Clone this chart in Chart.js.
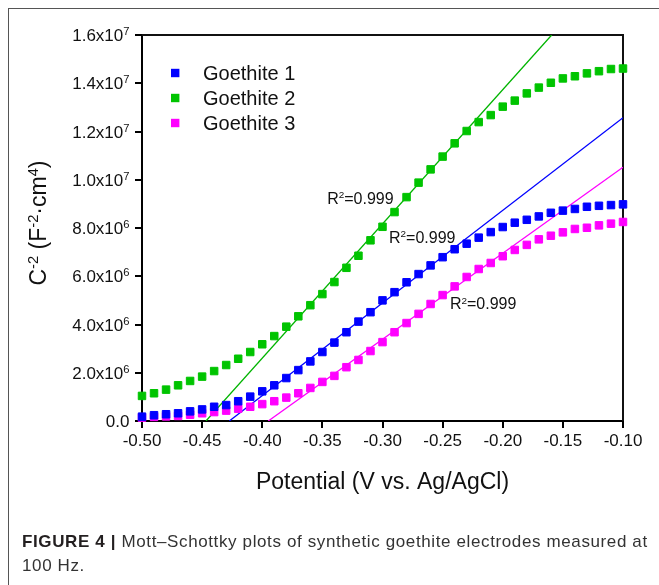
<!DOCTYPE html>
<html>
<head>
<meta charset="utf-8">
<title>Mott–Schottky plots</title>
<script src="https://cdn.jsdelivr.net/npm/chart.js@4.4.1/dist/chart.umd.min.js"></script>
<style>
    html, body { margin: 0; padding: 0; background: #fff; }
    #wrap { position: relative; width: 659px; height: 585px; overflow: hidden; }
    #frame { position: absolute; left: 8px; top: 8px; width: 700px; height: 620px; border: 1.5px solid #555; }
    #plot { position: absolute; left: 0; top: 0; }
    #caption {
        position: absolute; left: 22px; top: 530px; width: 650px;
        font-family: "Liberation Sans", Arial, sans-serif; font-size: 17px; line-height: 23.5px;
        letter-spacing: 0.62px; color: #333; white-space: nowrap;
    }
    #caption b { font-weight: bold; color: #231f20; }
</style>
</head>
<body>
<div id="wrap">
    <div id="frame"></div>
    <canvas id="plot" width="659" height="585"></canvas>
    <div id="caption"><b>FIGURE 4 |</b> Mott–Schottky plots of synthetic goethite electrodes measured at<br>100 Hz.</div>
</div>
<script>
// Potential (V vs. Ag/AgCl)
const potential = [-0.50, -0.49, -0.48, -0.47, -0.46, -0.45, -0.44, -0.43, -0.42, -0.41,
    -0.40, -0.39, -0.38, -0.37, -0.36, -0.35, -0.34, -0.33, -0.32, -0.31,
    -0.30, -0.29, -0.28, -0.27, -0.26, -0.25, -0.24, -0.23, -0.22, -0.21,
    -0.20, -0.19, -0.18, -0.17, -0.16, -0.15, -0.14, -0.13, -0.12, -0.11, -0.10];

// C^-2 values, in units of 1e6 F^-2 cm^4
const goethite1 = [0.18, 0.24, 0.28, 0.32, 0.40, 0.48, 0.59, 0.66, 0.82, 1.01,
    1.23, 1.48, 1.78, 2.11, 2.47, 2.86, 3.25, 3.68, 4.12, 4.51,
    5.00, 5.34, 5.75, 6.09, 6.45, 6.79, 7.12, 7.35, 7.60, 7.83,
    8.04, 8.22, 8.34, 8.48, 8.63, 8.72, 8.79, 8.88, 8.92, 8.95, 8.98];
const goethite2 = [1.04, 1.15, 1.30, 1.48, 1.66, 1.84, 2.07, 2.32, 2.58, 2.86,
    3.18, 3.52, 3.91, 4.34, 4.80, 5.26, 5.76, 6.35, 6.85, 7.49,
    8.05, 8.66, 9.28, 9.88, 10.43, 10.96, 11.51, 12.02, 12.39, 12.68,
    13.03, 13.28, 13.58, 13.82, 14.02, 14.20, 14.29, 14.41, 14.50, 14.59, 14.61];
const goethite3 = [0.14, 0.17, 0.19, 0.21, 0.26, 0.32, 0.37, 0.43, 0.51, 0.59,
    0.70, 0.82, 0.97, 1.15, 1.37, 1.62, 1.87, 2.23, 2.53, 2.90,
    3.27, 3.68, 4.06, 4.44, 4.85, 5.22, 5.58, 5.97, 6.30, 6.55,
    6.83, 7.09, 7.30, 7.53, 7.68, 7.82, 7.96, 8.01, 8.11, 8.18, 8.25];

// linear fits (end points), same units
const fit1X = [-0.4274, -0.10];
const fit1Y = [0, 12.57];
const fit2X = [-0.4468, -0.1593];
const fit2Y = [0, 16.0];
const fit3X = [-0.3950, -0.10];
const fit3Y = [0, 10.52];

const seriesNames = ['Goethite 1', 'Goethite 2', 'Goethite 3'];
const seriesColors = ['#0000ff', '#00c400', '#ff00ff'];
const lineColors = ['#0000ff', '#00b400', '#ff00ff'];

// R^2 label anchors (left / middle), in data units
const r2Text = ['0.999', '0.999', '0.999'];
const r2X = [-0.2946, -0.3460, -0.2439];
const r2Y = [7.62, 9.25, 4.87];

// tick labels
const xTickLabels = ['-0.50', '-0.45', '-0.40', '-0.35', '-0.30', '-0.25', '-0.20', '-0.15', '-0.10'];
const yTickMantissa = ['0.0', '2.0', '4.0', '6.0', '8.0', '1.0', '1.2', '1.4', '1.6'];
const yTickExp = ['', '6', '6', '6', '6', '7', '7', '7', '7'];

const FONT = '"Liberation Sans", Arial, sans-serif';
const INK = '#111';
const E6 = 1e6;

// draws text made of [text, isSuperscript] parts
function drawRich(ctx, parts, x, y, size, align, supScale = 0.62) {
    const supSize = size * supScale;
    const widths = parts.map(([t, sup]) => {
        ctx.font = `${sup ? supSize : size}px ${FONT}`;
        return ctx.measureText(t).width;
    });
    const total = widths.reduce((a, b) => a + b, 0);
    let cx = x;
    if (align === 'right') cx = x - total;
    if (align === 'center') cx = x - total / 2;
    const base = y + size * 0.36;
    ctx.textAlign = 'left';
    ctx.textBaseline = 'alphabetic';
    parts.forEach(([t, sup], i) => {
        ctx.font = `${sup ? supSize : size}px ${FONT}`;
        ctx.fillText(t, cx, sup ? base - size * 0.36 : base);
        cx += widths[i];
    });
}

const decor = {
    id: 'decor',
    beforeDatasetsDraw(chart) {
        const ctx = chart.ctx;
        const a = chart.chartArea;
        // top and right edges of the plot box
        ctx.save();
        ctx.strokeStyle = '#111';
        ctx.lineWidth = 2;
        ctx.beginPath();
        ctx.moveTo(a.left, a.top);
        ctx.lineTo(a.right, a.top);
        ctx.lineTo(a.right, a.bottom);
        ctx.stroke();
        ctx.restore();
    },
    afterDraw(chart) {
        const ctx = chart.ctx;
        const xs = chart.scales.x;
        const ys = chart.scales.y;
        ctx.save();
        ctx.fillStyle = INK;

        // y tick labels with powers of ten
        ys.ticks.forEach((t, i) => {
            const py = ys.getPixelForValue(t.value);
            const parts = yTickExp[i] ? [[yTickMantissa[i] + 'x10', 0], [yTickExp[i], 1]] : [[yTickMantissa[i], 0]];
            drawRich(ctx, parts, 129.5, py, 17, 'right', 0.66);
        });

        // y axis title
        ctx.save();
        ctx.translate(38, 223);
        ctx.rotate(-Math.PI / 2);
        drawRich(ctx, [['C', 0], ['-2', 1], [' (F', 0], ['-2', 1], ['·cm', 0], ['4', 1], [')', 0]], 0, 0, 23, 'center', 0.64);
        ctx.restore();

        // legend
        seriesNames.forEach((name, i) => {
            const y = 73 + i * 25;
            ctx.fillStyle = seriesColors[i];
            ctx.fillRect(171, y - 4.2, 8.4, 8.4);
            ctx.fillStyle = INK;
            ctx.font = `20px ${FONT}`;
            ctx.textAlign = 'left';
            ctx.textBaseline = 'middle';
            ctx.fillText(name, 203, y + 1);
        });

        // R^2 labels
        r2Text.forEach((txt, i) => {
            const px = xs.getPixelForValue(r2X[i]);
            const py = ys.getPixelForValue(r2Y[i] * E6);
            drawRich(ctx, [['R', 0], ['2', 1], ['=' + txt, 0]], px, py, 16, 'left');
        });
        ctx.restore();
    }
};

const pointSets = [goethite1, goethite2, goethite3].map((vals, i) => ({
    label: seriesNames[i],
    data: potential.map((v, k) => ({ x: v, y: vals[k] * E6 })),
    showLine: false,
    pointStyle: 'rect',
    pointRadius: 5.3,
    pointBorderWidth: 1,
    backgroundColor: seriesColors[i],
    borderColor: seriesColors[i],
    clip: false
}));

const fitSets = [[fit1X, fit1Y], [fit2X, fit2Y], [fit3X, fit3Y]].map(([fx, fy], i) => ({
    label: seriesNames[i] + ' fit',
    data: fx.map((v, k) => ({ x: v, y: fy[k] * E6 })),
    showLine: true,
    pointRadius: 0,
    borderWidth: 1.3,
    borderColor: lineColors[i],
    backgroundColor: lineColors[i]
}));

new Chart(document.getElementById('plot'), {
    type: 'scatter',
    data: { datasets: [...pointSets, ...fitSets] },
    options: {
        responsive: false,
        animation: false,
        events: [],
        layout: { padding: { left: 0, top: 35, right: 36, bottom: 84 } },
        plugins: {
            legend: { display: false },
            tooltip: { enabled: false }
        },
        scales: {
            x: {
                type: 'linear',
                min: -0.5,
                max: -0.1,
                afterFit: s => { s.height = 80; },
                ticks: {
                    stepSize: 0.05,
                    autoSkip: false,
                    maxRotation: 0,
                    padding: 3,
                    color: INK,
                    font: { family: FONT, size: 17 },
                    callback: (v, i) => xTickLabels[i]
                },
                grid: { drawOnChartArea: false, drawTicks: true, tickLength: 7, color: '#000', lineWidth: 2 },
                border: { display: true, color: '#000', width: 2 },
                title: {
                    display: true,
                    text: 'Potential (V vs. Ag/AgCl)',
                    color: INK,
                    font: { family: FONT, size: 23 },
                    padding: { top: 4, bottom: 5 }
                }
            },
            y: {
                type: 'linear',
                min: 0,
                max: 1.6e7,
                afterFit: s => { s.width = 142; },
                ticks: { stepSize: 2e6, display: false },
                grid: { drawOnChartArea: false, drawTicks: true, tickLength: 7, color: '#000', lineWidth: 2 },
                border: { display: true, color: '#000', width: 2 }
            }
        }
    },
    plugins: [decor]
});
</script>
</body>
</html>
